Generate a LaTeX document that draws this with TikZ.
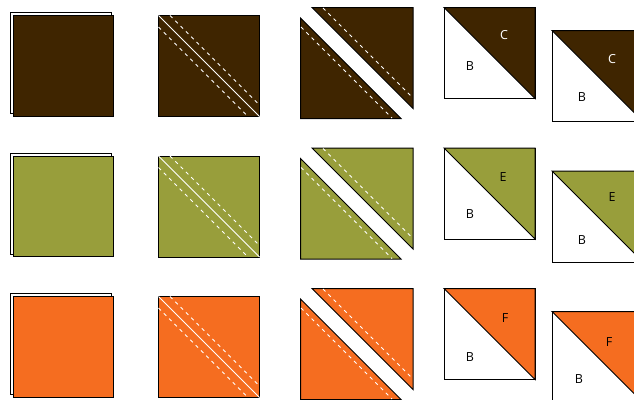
\documentclass[tikz,border=0pt]{standalone}
\usepackage{fontspec}
\setmainfont{Open Sans}
\definecolor{brownc}{HTML}{3F2500}
\definecolor{greenc}{HTML}{989E3B}
\definecolor{orangec}{HTML}{F56D20}
\tikzset{
  edge/.style={draw=black,line width=1pt,line join=miter},
  seam/.style={draw=white,line width=0.9pt},
  stitch/.style={draw=white,line width=1pt,dash pattern=on 3.5pt off 4pt},
  lbl/.style={font=\fontsize{12.5}{14}\selectfont,inner sep=0pt}
}
\begin{document}
\begin{tikzpicture}[x=1pt,y=-1pt]
\useasboundingbox (0,0) rectangle (634,399);
\foreach \c/\dy in {brownc/0,greenc/140.5,orangec/281}{
  \begin{scope}[yshift=-\dy pt]
    % layered squares
    \draw[edge,fill=white] (10.5,12.5) rectangle (111,113.5);
    \draw[edge,fill=\c] (13,15.5) rectangle (113.5,116);
    % marked square
    \draw[edge,fill=\c] (158.5,15.5) rectangle (259.5,116.5);
    \draw[seam] (158.5,15.5) -- (259.5,116.5);
    \draw[stitch] (170,15.5) -- (259.5,105);
    \draw[stitch] (158.5,27) -- (248,116.5);
    % cut triangles
    \draw[edge,fill=\c] (300.5,18) -- (300.5,118.5) -- (401,118.5) -- cycle;
    \draw[stitch] (301,27) -- (392,118);
    \draw[edge,fill=\c] (312,7.5) -- (413,7.5) -- (413,108.5) -- cycle;
    \draw[stitch] (323,8) -- (413,98);
    % half-square block
    \draw[edge,fill=white] (444,7.5) rectangle (535,98.5);
    \draw[edge,fill=\c] (444,7.5) -- (535,7.5) -- (535,98.5) -- cycle;
    % half-square block, running off the edge
    \draw[edge,fill=white] (552,30.5) rectangle (643,121.5);
    \draw[edge,fill=\c] (552,30.5) -- (643,30.5) -- (643,121.5) -- cycle;
  \end{scope}
}
\node[lbl,text=white] (c1) at (504,35.5) {C};
\node[lbl] (b1) at (470,66.5) {B};
\node[lbl,text=white] (c2) at (612,59) {C};
\node[lbl] (b2) at (582,97.5) {B};
\node[lbl] (e1) at (503,177.5) {E};
\node[lbl] (b3) at (470,214.5) {B};
\node[lbl] (e2) at (612,197) {E};
\node[lbl] (b4) at (582,240) {B};
\node[lbl] (f1) at (505,318) {F};
\node[lbl] (b5) at (470,357) {B};
\node[lbl] (f2) at (609,342.5) {F};
\node[lbl] (b6) at (579,379.5) {B};
\end{tikzpicture}
\end{document}
